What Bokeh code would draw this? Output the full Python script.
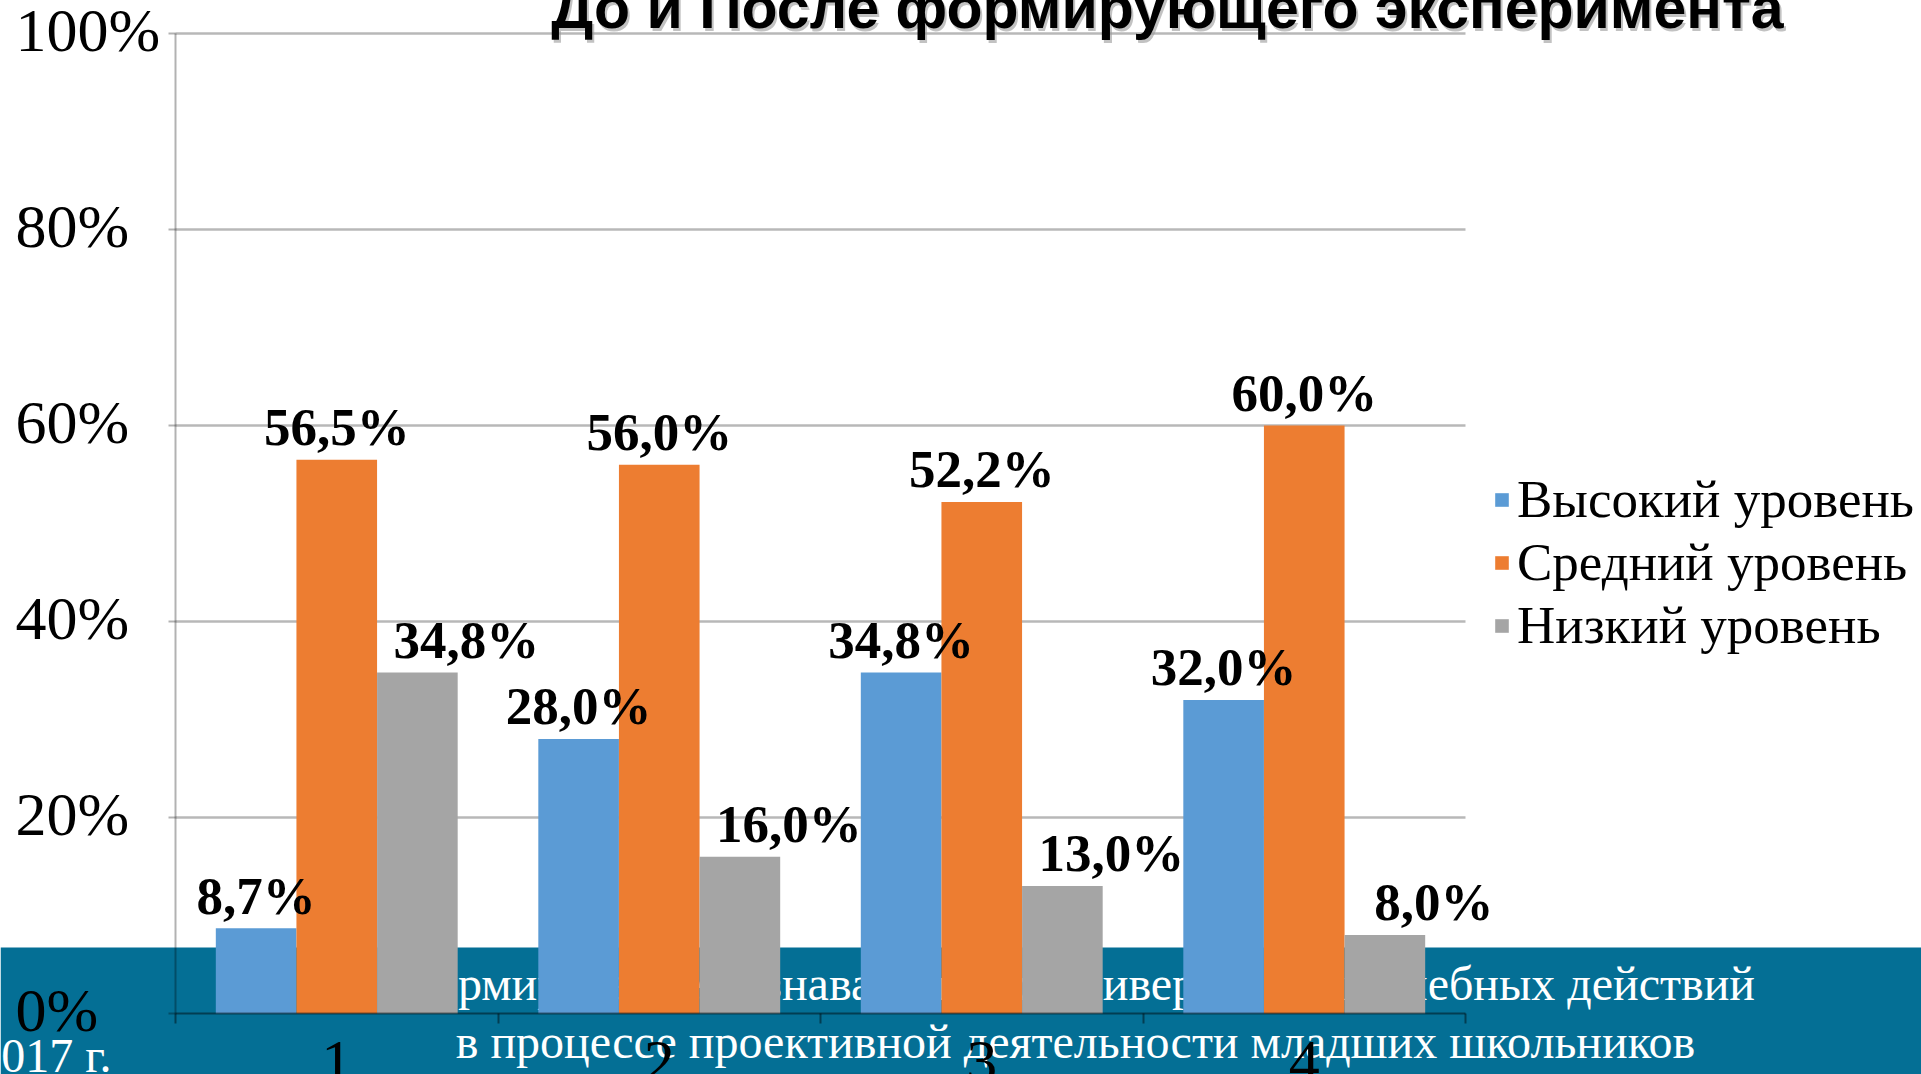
from bokeh.plotting import figure
from bokeh.models import (Range1d, LinearAxis, FixedTicker, BoxAnnotation,
                          Legend, LegendItem, ColumnDataSource)
from bokeh.transform import dodge
from bokeh.core.properties import value
from bokeh.embed import file_html
from bokeh.resources import INLINE

# ---------------- data ----------------
categories = ["1", "2", "3", "4"]
series_names = ["Высокий уровень", "Средний уровень", "Низкий уровень"]
high = [8.7, 28.0, 34.8, 32.0]
medium = [56.5, 56.0, 52.2, 60.0]
low = [34.8, 16.0, 13.0, 8.0]
y_ticks = [0, 20, 40, 60, 80, 100]
y_tick_labels = ["0%", "20%", "40%", "60%", "80%", "100%"]
title_text = "До и После формирующего эксперимента"
band_lines = ["Формирование познавательных универсальных учебных действий",
              "в процессе проективной деятельности младших школьников"]
footer_text = "2017 г."
colors = ["#5B9BD5", "#ED7D31", "#A5A5A5"]

# ---------------- layout helpers (reference pixels -> data) ----------------
W, H = 1921, 1074
OFF = 0
AX_LEFT, AX_RIGHT = 175, 1465
Y0_PX, Y100_PX = 1013, 33
cat_w = (AX_RIGHT - AX_LEFT) / len(categories)
ppu = (Y0_PX - Y100_PX) / 100.0
BASE_FIX = 0.39  # alphabetic-baseline correction (fraction of font size)


def xd(px):
    return 0.5 + (px - AX_LEFT) / cat_w


def yd(py):
    return (Y0_PX - py) / ppu


def fmt(v):
    return f"{v:.1f}%".replace(".", ",")


xs = list(range(1, len(categories) + 1))
source = ColumnDataSource(dict(
    x=xs, high=high, medium=medium, low=low,
    high_l=[fmt(v) for v in high], medium_l=[fmt(v) for v in medium],
    low_l=[fmt(v) for v in low],
))

p = figure(width=W, height=H, output_backend="svg", toolbar_location=None,
           x_range=Range1d(xd(OFF), xd(OFF + W)),
           y_range=Range1d(yd(OFF + H), yd(OFF)),
           x_axis_type=None, y_axis_type=None, min_border=0,
           min_border_left=0, min_border_right=0, min_border_top=0, min_border_bottom=0,
           outline_line_color=None, background_fill_color="white",
           border_fill_color="white")

# teal band
band = BoxAnnotation(top=yd(947), fill_color="#046f95", fill_alpha=1.0,
                     line_color=None, level="image")
p.add_layout(band)

# band text (under the bars)
BT = 48
p.text(x=[xd(1075), xd(1075)], y=[yd(1002), yd(1060)], text=band_lines,
       text_color="white", text_font=value("Liberation Serif"),
       text_font_size=f"{BT}px", text_align="center", text_baseline="alphabetic",
       y_offset=-BASE_FIX * BT, level="underlay")
p.text(x=[xd(111)], y=[yd(1074)], text=[footer_text], text_color="white",
       text_font=value("Liberation Serif"), text_font_size="48px",
       text_align="right", text_baseline="alphabetic", y_offset=-BASE_FIX * 48,
       level="underlay")

# gridlines
grid_y = y_ticks[1:]
p.segment(x0=[0.5] * len(grid_y), x1=[len(categories) + 0.5] * len(grid_y),
          y0=grid_y, y1=grid_y, line_color="black", line_alpha=0.28,
          line_width=2.5, level="underlay")

# bars
offsets = [-0.25, 0.0, 0.25]
cols = ["high", "medium", "low"]
renderers = []
for col, off, c in zip(cols, offsets, colors):
    r = p.vbar(x=dodge("x", off, range=p.x_range), top=col, width=0.25,
               source=source, fill_color=c, line_color=None)
    renderers.append(r)

# data labels
DL = 53
for col, off in zip(cols, offsets):
    p.text(x=dodge("x", off, range=p.x_range), y=col, text=col + "_l",
           source=source, text_font=value("Liberation Serif"),
           text_font_style="bold", text_font_size=f"{DL}px", text_color="black",
           text_align="center", text_baseline="alphabetic",
           y_offset=-12 - BASE_FIX * DL,
           x_offset=49 if col == "low" else 0)

# axes
yaxis = LinearAxis(fixed_location=0.5, ticker=FixedTicker(ticks=y_ticks),
                   bounds=(0, 100),
                   axis_line_color="black", axis_line_alpha=0.3, axis_line_width=2,
                   major_tick_out=7, major_tick_in=0, major_tick_line_color="black",
                   major_tick_line_alpha=0.3, major_tick_line_width=2,
                   minor_tick_out=0, minor_tick_in=0,
                   major_label_text_color=None)
p.add_layout(yaxis, "left")

# y tick labels, left aligned as in the reference
YL = 62
p.text(x=[xd(15)] * len(y_ticks), y=y_ticks, text=y_tick_labels,
       text_font=value("Liberation Serif"), text_font_size=f"{YL}px",
       text_color="black", text_align="left", text_baseline="alphabetic",
       y_offset=0.33 * YL - BASE_FIX * YL, level="overlay")

xaxis = LinearAxis(fixed_location=0,
                   ticker=FixedTicker(ticks=xs, minor_ticks=[x - 0.5 for x in xs] + [xs[-1] + 0.5]),
                   bounds=(0.5, len(categories) + 0.5),
                   major_label_overrides={x: c for x, c in zip(xs, categories)},
                   axis_line_color="black", axis_line_alpha=0.45, axis_line_width=2,
                   major_tick_out=0, major_tick_in=0,
                   minor_tick_out=10, minor_tick_in=0, minor_tick_line_color="black",
                   minor_tick_line_alpha=0.45, minor_tick_line_width=2,
                   major_label_text_font="Liberation Serif",
                   major_label_text_font_size="62px", major_label_text_color="black",
                   major_label_standoff=18)
p.add_layout(xaxis, "below")

# title with soft shadow
TS = 59
p.text(x=[xd(1167) + 2 / cat_w], y=[yd(31) - 3 / ppu], text=[title_text],
       text_color="#9a9a9a", text_alpha=0.6, text_font=value("Liberation Sans"),
       text_font_style="bold", text_font_size=f"{TS}px", text_align="center",
       text_baseline="alphabetic", y_offset=-BASE_FIX * TS, level="overlay")
p.text(x=[xd(1167)], y=[yd(31)], text=[title_text], text_color="black",
       text_font=value("Liberation Sans"), text_font_style="bold",
       text_font_size=f"{TS}px", text_align="center", text_baseline="alphabetic",
       y_offset=-BASE_FIX * TS, level="overlay")

# legend
legend = Legend(items=[LegendItem(label=n, renderers=[r]) for n, r in zip(series_names, renderers)],
                location=(1493, 419), orientation="vertical",
                glyph_width=17, glyph_height=17, label_standoff=7, spacing=3,
                padding=0, margin=0, border_line_color=None,
                background_fill_alpha=0.0,
                label_text_font="Liberation Serif", label_text_font_size="53px",
                label_text_color="black")
p.add_layout(legend)

open("out.html", "w").write(file_html(p, INLINE))
